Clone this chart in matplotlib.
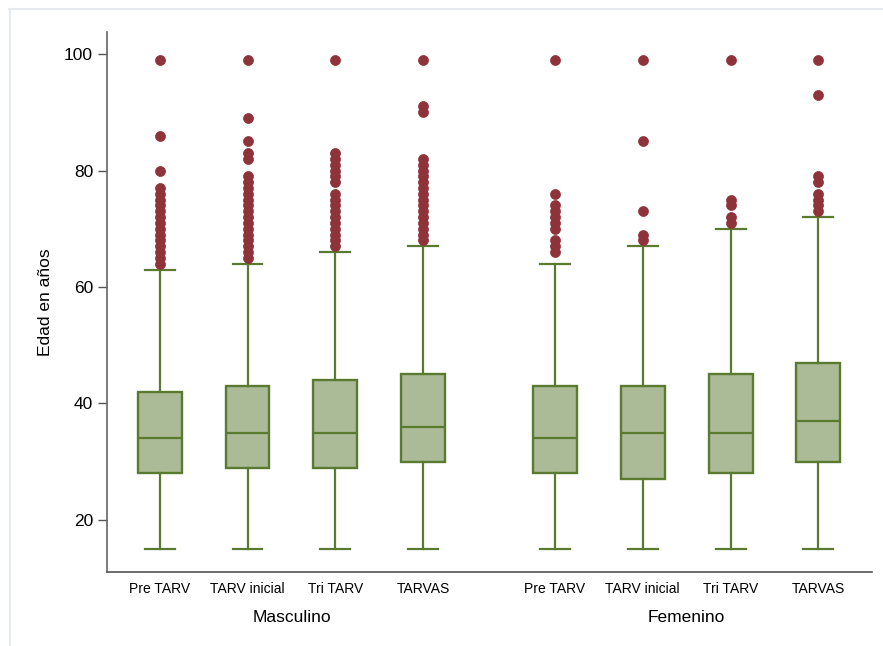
import matplotlib
matplotlib.use('Agg')
import matplotlib.pyplot as plt
from matplotlib.lines import Line2D

plt.rcParams['font.family'] = ['Liberation Sans', 'DejaVu Sans']

# Box summaries per treatment group, men then women
categories = ['Pre TARV', 'TARV inicial', 'Tri TARV', 'TARVAS']
groups = ['Masculino', 'Femenino']

q1 = [28, 29, 29, 30, 28, 27, 28, 30]
median = [34, 35, 35, 36, 34, 35, 35, 37]
q3 = [42, 43, 44, 45, 43, 43, 45, 47]
whisker_low = [15, 15, 15, 15, 15, 15, 15, 15]
whisker_high = [63, 64, 66, 67, 64, 67, 70, 72]

outliers = [
    list(range(64, 78)) + [80, 86, 99],
    list(range(65, 80)) + [82, 83, 85, 89, 99],
    list(range(67, 77)) + list(range(78, 84)) + [99],
    list(range(68, 83)) + [90, 91, 99],
    [66, 67, 68, 70, 71, 72, 73, 74, 76, 99],
    [68, 69, 73, 85, 99],
    [71, 72, 74, 75, 99],
    [73, 74, 75, 76, 78, 79, 93, 99],
]

positions = [0, 1, 2, 3, 4.5, 5.5, 6.5, 7.5]

box_edge = '#5a7a30'
box_fill = '#abba97'
dot_color = '#8f333a'

stats = []
for i in range(len(positions)):
    stats.append(dict(med=median[i], q1=q1[i], q3=q3[i],
                      whislo=whisker_low[i], whishi=whisker_high[i],
                      fliers=outliers[i]))

fig = plt.figure(figsize=(8.83, 6.46), dpi=100)
ax = fig.add_axes([107 / 883, 74 / 646, 765 / 883, 540 / 646])

ax.bxp(stats, positions=positions, widths=0.5, patch_artist=True,
       boxprops=dict(facecolor=box_fill, edgecolor=box_edge, linewidth=1.7),
       medianprops=dict(color=box_edge, linewidth=1.6),
       whiskerprops=dict(color=box_edge, linewidth=1.6),
       capprops=dict(color=box_edge, linewidth=1.6),
       capwidths=0.34,
       flierprops=dict(marker='o', markerfacecolor=dot_color,
                       markeredgecolor=dot_color, markeredgewidth=0.5,
                       markersize=7.2))

ax.set_xlim(-0.6, 8.11)
ax.set_ylim(11.07, 103.78)
ax.set_yticks([20, 40, 60, 80, 100])
ax.tick_params(axis='y', labelsize=12.5, length=6.5, width=1.0, color='#555555', pad=3.5)
ax.set_xticks(positions)
ax.set_xticklabels(categories * 2)
ax.tick_params(axis='x', labelsize=10, length=0, pad=7)

for side in ('top', 'right'):
    ax.spines[side].set_visible(False)
ax.spines['left'].set_color('#666666')
ax.spines['bottom'].set_color('#555555')
ax.spines['left'].set_linewidth(1.2)
ax.spines['bottom'].set_linewidth(1.2)

ax.set_ylabel('Edad en años', fontsize=12.5)
ax.yaxis.set_label_coords(-0.071, 0.5)

# group labels under each block of four boxes
for g, name in enumerate(groups):
    xs = positions[g * 4:(g + 1) * 4]
    ax.text((xs[0] + xs[-1]) / 2, -0.085, name, transform=ax.get_xaxis_transform(),
            ha='center', va='center', fontsize=12.5)

# light frame along the top and left edges
frame = '#e6eaee'
fig.add_artist(Line2D([9 / 883, 1], [1 - 8.5 / 646, 1 - 8.5 / 646], color=frame, lw=1.5))
fig.add_artist(Line2D([9.5 / 883, 9.5 / 883], [0, 1 - 8.5 / 646], color=frame, lw=1.5))

fig.savefig('out.png', dpi=100)
